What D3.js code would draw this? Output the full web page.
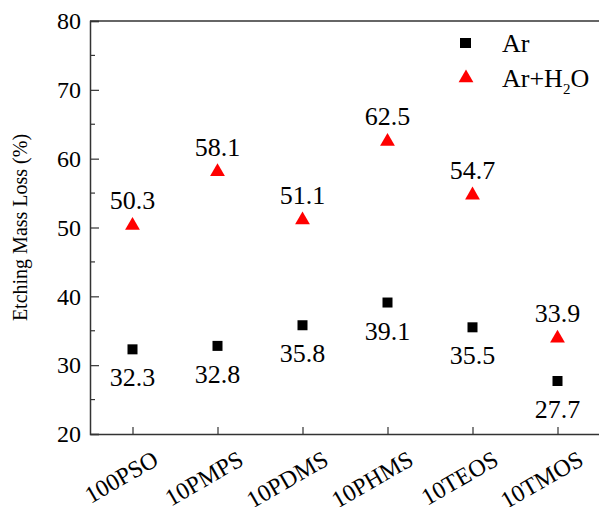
<!DOCTYPE html>
<html>
<head>
<meta charset="utf-8">
<script src="https://cdn.jsdelivr.net/npm/d3@7"></script>
<style>
  body { margin: 0; background: #fff; }
  svg text { font-family: "Liberation Serif", "Times New Roman", serif; }
</style>
</head>
<body>
<div id="chart"></div>
<script>
const samples = ["100PSO", "10PMPS", "10PDMS", "10PHMS", "10TEOS", "10TMOS"];
const arValues = [32.3, 32.8, 35.8, 39.1, 35.5, 27.7];
const arH2OValues = [50.3, 58.1, 51.1, 62.5, 54.7, 33.9];
const yTicks = [20, 30, 40, 50, 60, 70, 80];
const yMinorTicks = [25, 35, 45, 55, 65, 75];

const width = 599, height = 507;
const plotLeft = 90, plotTop = 21, plotBottom = 434, plotRight = 600;

const svg = d3.select("#chart")
    .append("svg")
    .attr("width", width)
    .attr("height", height)
    .style("font-family", "'Liberation Serif', serif");

const x = d3.scalePoint()
    .domain(samples)
    .range([plotLeft, plotRight])
    .padding(0.5);

const y = d3.scaleLinear()
    .domain([20, 80])
    .range([plotBottom, plotTop]);

// top frame line
svg.append("line")
    .attr("x1", plotLeft).attr("x2", width)
    .attr("y1", plotTop).attr("y2", plotTop)
    .attr("stroke", "#333").attr("stroke-width", 1.5);

// y axis
const yAxis = svg.append("g")
    .attr("transform", `translate(${plotLeft},0)`)
    .call(d3.axisLeft(y).tickValues(yTicks).tickSize(-9).tickPadding(9));
yAxis.attr("font-family", null);
yAxis.select(".domain").attr("stroke", "#333").attr("stroke-width", 1.5);
yAxis.selectAll(".tick line").attr("stroke", "#333").attr("stroke-width", 1.2);
yAxis.selectAll(".tick text")
    .attr("font-size", 24)
    .attr("fill", "#000");

svg.append("g")
    .selectAll("line")
    .data(yMinorTicks)
    .join("line")
    .attr("x1", plotLeft).attr("x2", plotLeft + 5)
    .attr("y1", d => y(d)).attr("y2", d => y(d))
    .attr("stroke", "#333").attr("stroke-width", 1.2);

// x axis
const xAxis = svg.append("g")
    .attr("transform", `translate(0,${plotBottom})`)
    .call(d3.axisBottom(x).tickSize(-7).tickSizeOuter(0));
xAxis.attr("font-family", null);
xAxis.select(".domain").attr("stroke", "#333").attr("stroke-width", 1.5);
xAxis.selectAll(".tick line").attr("stroke", "#333").attr("stroke-width", 1.2);
xAxis.selectAll(".tick text")
    .attr("font-size", 24)
    .attr("fill", "#000")
    .attr("text-anchor", "end")
    .attr("y", 0)
    .attr("dy", 0)
    .attr("transform", "translate(27,30) rotate(-30)");

// y label
svg.append("text")
    .attr("transform", `translate(27,${(plotTop + plotBottom) / 2}) rotate(-90)`)
    .attr("text-anchor", "middle")
    .attr("font-size", 20)
    .text("Etching Mass Loss (%)");

// Ar points
svg.append("g")
    .selectAll("rect")
    .data(arValues)
    .join("rect")
    .attr("x", (d, i) => x(samples[i]) - 5)
    .attr("y", d => y(d) - 5)
    .attr("width", 10)
    .attr("height", 10)
    .attr("fill", "#000");

svg.append("g")
    .selectAll("text")
    .data(arValues)
    .join("text")
    .attr("x", (d, i) => x(samples[i]))
    .attr("y", d => y(d) + 37)
    .attr("text-anchor", "middle")
    .attr("font-size", 26)
    .text(d => d.toFixed(1));

// Ar+H2O points
const tri = d3.symbol().type(d3.symbolTriangle).size(95);
svg.append("g")
    .selectAll("path")
    .data(arH2OValues)
    .join("path")
    .attr("d", tri)
    .attr("transform", (d, i) => `translate(${x(samples[i])},${y(d)})`)
    .attr("fill", "#ff0000");

svg.append("g")
    .selectAll("text")
    .data(arH2OValues)
    .join("text")
    .attr("x", (d, i) => x(samples[i]))
    .attr("y", d => y(d) - 16)
    .attr("text-anchor", "middle")
    .attr("font-size", 26)
    .text(d => d.toFixed(1));

// legend
const legend = svg.append("g");
legend.append("rect")
    .attr("x", 460).attr("y", 38).attr("width", 11).attr("height", 10)
    .attr("fill", "#000");
legend.append("text")
    .attr("x", 502).attr("y", 52)
    .attr("font-size", 26)
    .text("Ar");
legend.append("path")
    .attr("d", tri)
    .attr("transform", "translate(466,78)")
    .attr("fill", "#ff0000");
const lt = legend.append("text")
    .attr("x", 502).attr("y", 87)
    .attr("font-size", 26);
lt.append("tspan").text("Ar+H");
lt.append("tspan").attr("font-size", 15).attr("dy", 7).text("2");
lt.append("tspan").attr("dy", -7).text("O");
</script>
</body>
</html>
